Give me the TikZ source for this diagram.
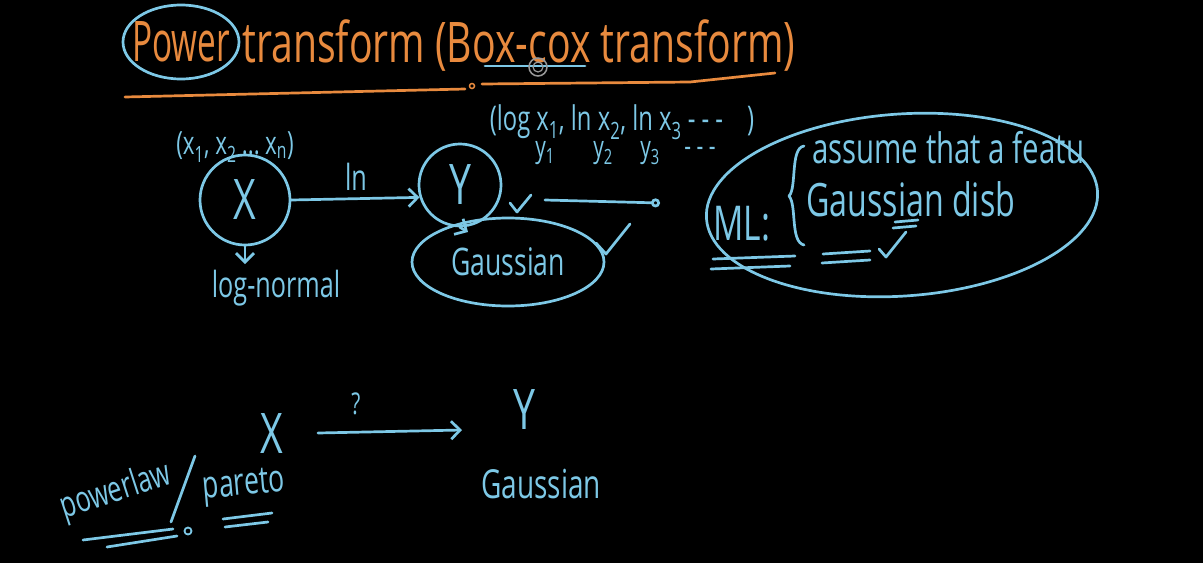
\documentclass[tikz,border=0pt]{standalone}
\usepackage{fontspec}
\setmainfont{Open Sans}[FakeStretch=0.7]
\usetikzlibrary{arrows.meta,shapes.geometric}
\definecolor{pen}{RGB}{125,200,230}
\definecolor{orng}{RGB}{232,138,62}
\begin{document}
\begin{tikzpicture}[x=1pt,y=-1pt,
  ink/.style={draw=pen,line width=2.7pt,line cap=round,line join=round},
  oink/.style={draw=orng,line width=2.7pt,line cap=round,line join=round},
  txt/.style={text=pen,inner sep=0pt},
  otxt/.style={text=orng,inner sep=0pt},
  barb/.style={-{Straight Barb[length=9pt,width=18pt]}},
  fs/.style={font=\fontsize{#1}{#1}\selectfont}]
\fill[black] (0,0) rectangle (1203,563);
\useasboundingbox (0,0) rectangle (1203,563);

% title
\node[otxt,fs=56,xscale=0.85] (pw) at (181,42) {Power};
\node[otxt,fs=56,anchor=base west] (rest) at (242,62) {transform (Box-cox transform)};
\draw[ink] (pw.center) ellipse [x radius=58, y radius=37];
\draw[oink] (125,97) -- (465,89);
\draw[orng,line width=1.5pt] (472,86) circle [radius=2.5];
\draw[oink] (482,84) -- (690,82) -- (775,73);
\draw[ink] (485,66) -- (585,66);
\draw[gray!80,line width=1.5pt] (538,67) circle [radius=9];
\draw[gray!80,line width=1.2pt] (538,67) circle [radius=5];

% top-left
\node[txt,fs=32] (xs) at (235,147) {(x\textsubscript{1}, x\textsubscript{2}\,...\,x\textsubscript{n})};
\node[ink,txt,circle,minimum size=90pt,fs=56] (X) at (245,200) {X};
\node[ink,txt,circle,minimum size=82pt,fs=56] (Y) at (460,185) {Y};
\draw[ink,barb] (X.east) -- (Y.197);
\node[txt,fs=36] (ln) at (356,177) {ln};
\coordinate (xd) at (245,264);
\draw[ink,barb] (X.south) -- (xd);
\node[txt,fs=36] (lognorm) at (276,288) {log-normal};

\node[ink,txt,ellipse,minimum width=192pt,minimum height=88pt,fs=38] (G) at (508,262) {Gaussian};
\coordinate (gt) at (468,232);
\draw[ink,barb] (Y.south) -- (gt);

\node[txt,fs=34] (logs) at (622,122) {(log x\textsubscript{1}, ln x\textsubscript{2}, ln x\textsubscript{3} - - -\hspace{24pt})};
\node[txt,fs=30] (y1) at (545,153) {y\textsubscript{1}};
\node[txt,fs=30] (y2) at (603,153) {y\textsubscript{2}};
\node[txt,fs=30] (y3) at (650,153) {y\textsubscript{3}};
\node[txt,fs=30] (ydash) at (700,152) {- - -};

% checks
\draw[ink] (510,203) -- (517,212) -- (531,195);
\draw[ink] (596,243) -- (606,254) -- (630,224);

% ML ellipse
\node[ink,ellipse,minimum width=392pt,minimum height=182pt,rotate=4] (ml) at (902,205) {};
\coordinate (ya) at (545,200);
\coordinate (mla) at (660,203);
\draw[ink,-{Circle[open,length=9pt]}] (ya) -- (mla);
\node[txt,fs=48] (mltxt) at (742,224) {ML:};
\draw[ink] (804,146) .. controls (790,148) and (797,188) .. (789,196) .. controls (797,205) and (790,242) .. (804,245);
\node[txt,fs=42,anchor=base west] (assume) at (812,163) {assume that a featu};
\node[txt,fs=46,anchor=base west] (gdisb) at (806,216) {Gaussian disb};
\draw[ink] (895,222) -- (918,220);
\draw[ink] (893,228) -- (916,226);
\draw[ink] (713,259) -- (795,256);
\draw[ink] (711,269) -- (790,266);
\draw[ink] (823,254) -- (870,251);
\draw[ink] (822,263) -- (870,260);
\draw[ink] (879,249) -- (886,257) -- (906,232);

% bottom
\node[txt,fs=56] (bx) at (272,434) {X};
\node[txt,fs=56] (by) at (524,410) {Y};
\coordinate (bs) at (318,433);
\coordinate (bq) at (462,430);
\draw[ink,barb] (bs) -- (bq);
\node[txt,fs=30] (q) at (356,404) {?};
\node[txt,fs=40] (bg) at (541,484) {Gaussian};
\node[txt,fs=36,rotate=18] (plaw) at (116,492) {powerlaw};
\draw[ink] (195,456) -- (171,522);
\node[txt,fs=38,rotate=5] (pareto) at (244,487) {pareto};
\draw[ink] (83,540) -- (173,529);
\draw[ink] (107,547) -- (177,536);
\draw[ink,line width=1.8pt] (188,531) circle [radius=3.5];
\draw[ink] (223,519) -- (272,513);
\draw[ink] (225,527) -- (268,522);
\end{tikzpicture}
\end{document}
